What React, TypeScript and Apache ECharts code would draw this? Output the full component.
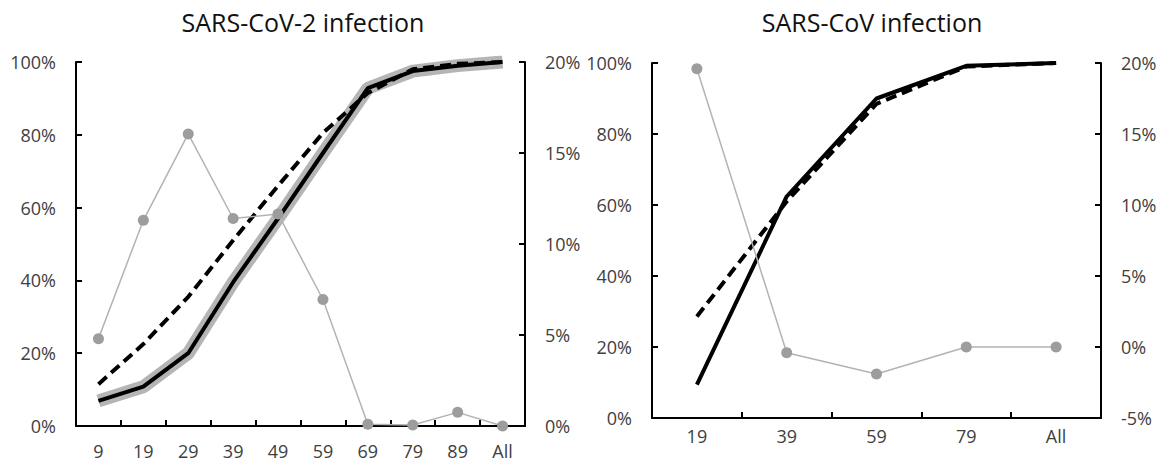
import React, { useEffect, useRef } from "react";
import * as echarts from "echarts";

// Left panel: SARS-CoV-2
const catsCov2 = ["9", "19", "29", "39", "49", "59", "69", "79", "89", "All"];
const cov2Solid = [6.9, 10.8, 20, 39.5, 57, 75, 92.8, 97.5, 99, 100];
const cov2Dashed = [11.5, 22.5, 35.5, 51, 66, 80.5, 91.5, 98, 99.5, 100];
const cov2Gray = [4.8, 11.3, 16.05, 11.4, 11.65, 6.95, 0.1, 0.05, 0.75, 0];

// Right panel: SARS-CoV
const catsCov = ["19", "39", "59", "79", "All"];
const covSolid = [9.4, 62.4, 90, 99.2, 100];
const covDashed = [28.6, 61, 88.5, 99, 100];
const covGray = [19.6, -0.4, -1.9, 0, 0];

const FONT = "'Open Sans', 'Noto Sans', sans-serif";
const LABEL_COLOR = "#404040";
const LABEL_SIZE = 18;

export default function App() {
  const ref = useRef<HTMLDivElement>(null);
  useEffect(() => {
    if (!ref.current) return;
    const chart = echarts.init(ref.current, undefined, { renderer: "svg" });
    const axisLine = { show: true, lineStyle: { color: "#000", width: 2 } };
    const axisTickY = { show: true, inside: true, length: 6, lineStyle: { color: "#000", width: 2 } };
    const axisLabel = (margin: number) => ({
      color: LABEL_COLOR,
      fontSize: LABEL_SIZE,
      fontFamily: FONT,
      margin,
      formatter: "{value}%",
    });
    const grayLine = (xi: number, yi: number, data: number[]) => ({
      type: "line",
      xAxisIndex: xi,
      yAxisIndex: yi,
      data,
      symbol: "circle",
      symbolSize: 11,
      itemStyle: { color: "#9d9d9d" },
      lineStyle: { color: "#b3b3b3", width: 1.5 },
      z: 5,
    });
    const titleStyle = { fontSize: 25, fontWeight: "normal", color: "#111", fontFamily: FONT };
    chart.setOption({
      animation: false,
      title: [
        { text: "SARS-CoV-2 infection", left: 298, top: 4, textAlign: "center", textStyle: titleStyle },
        { text: "SARS-CoV infection", left: 867, top: 4, textAlign: "center", textStyle: titleStyle },
      ],
      grid: [
        { left: 76, top: 62, width: 449, height: 364 },
        { left: 652, top: 63, width: 449, height: 355 },
      ],
      xAxis: [
        {
          type: "category",
          gridIndex: 0,
          data: catsCov2,
          boundaryGap: true,
          axisLine,
          axisTick: { show: true, inside: true, length: 6, lineStyle: { color: "#000", width: 2 } },
          axisLabel: { color: LABEL_COLOR, fontSize: LABEL_SIZE, fontFamily: FONT, margin: 16 },
          splitLine: { show: false },
        },
        {
          type: "category",
          gridIndex: 1,
          data: catsCov,
          boundaryGap: true,
          axisLine,
          axisTick: { show: true, inside: true, length: 6, lineStyle: { color: "#000", width: 2 } },
          axisLabel: { color: LABEL_COLOR, fontSize: LABEL_SIZE, fontFamily: FONT, margin: 9 },
          splitLine: { show: false },
        },
      ],
      yAxis: [
        {
          type: "value", gridIndex: 0, min: 0, max: 100, interval: 20, position: "left",
          axisLine, axisTick: axisTickY, axisLabel: axisLabel(20), splitLine: { show: false },
        },
        {
          type: "value", gridIndex: 0, min: 0, max: 20, interval: 5, position: "right",
          axisLine, axisTick: axisTickY, axisLabel: axisLabel(20), splitLine: { show: false },
        },
        {
          type: "value", gridIndex: 1, min: 0, max: 100, interval: 20, position: "left",
          axisLine, axisTick: axisTickY, axisLabel: axisLabel(20), splitLine: { show: false },
        },
        {
          type: "value", gridIndex: 1, min: -5, max: 20, interval: 5, position: "right",
          axisLine, axisTick: axisTickY, axisLabel: axisLabel(20), splitLine: { show: false },
        },
      ],
      series: [
        {
          type: "line", xAxisIndex: 0, yAxisIndex: 0, data: cov2Solid, symbol: "none",
          lineStyle: { color: "#b5b5b5", width: 13 }, z: 1,
        },
        {
          type: "line", xAxisIndex: 0, yAxisIndex: 0, data: cov2Solid, symbol: "none",
          lineStyle: { color: "#000", width: 4 }, z: 3,
        },
        {
          type: "line", xAxisIndex: 0, yAxisIndex: 0, data: cov2Dashed, symbol: "none",
          lineStyle: { color: "#000", width: 4, type: [11, 6] }, z: 3,
        },
        grayLine(0, 1, cov2Gray),
        {
          type: "line", xAxisIndex: 1, yAxisIndex: 2, data: covSolid, symbol: "none",
          lineStyle: { color: "#000", width: 4 }, z: 3,
        },
        {
          type: "line", xAxisIndex: 1, yAxisIndex: 2, data: covDashed, symbol: "none",
          lineStyle: { color: "#000", width: 4, type: [11, 6] }, z: 3,
        },
        grayLine(1, 3, covGray),
      ],
    });
    return () => chart.dispose();
  }, []);
  return (
    <div
      ref={ref}
      style={{ position: "absolute", left: 0, top: 0, width: 1165, height: 462, background: "#fff" }}
    />
  );
}
